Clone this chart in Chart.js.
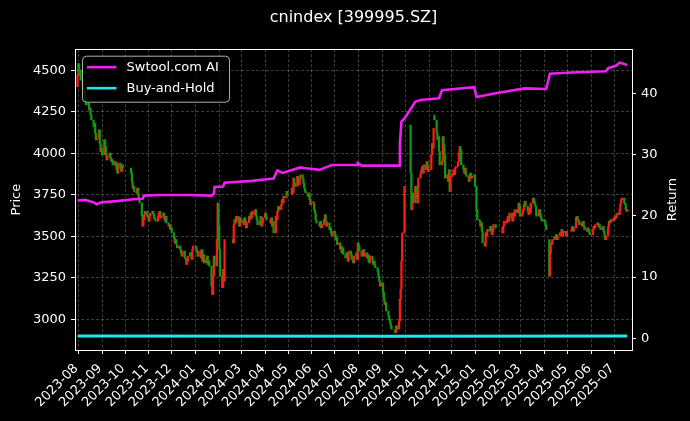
<!DOCTYPE html>
<html>
<head>
<meta charset="utf-8">
<script src="https://cdn.jsdelivr.net/npm/chart.js@4.4.1/dist/chart.umd.min.js"></script>
<style>
html,body{margin:0;padding:0;background:#000;}
canvas{display:block;}
</style>
</head>
<body>
<canvas id="c" width="690" height="421"></canvas>
<script>
// ---------------- DATA ----------------
const chartTitle = 'cnindex [399995.SZ]';
const priceAxisLabel = 'Price';
const returnAxisLabel = 'Return';
const seriesNames = ['Swtool.com AI', 'Buy-and-Hold'];

const firstDay = '2023-07-31';
const lastDay = '2025-07-18';

const xTickLabels = ['2023-08','2023-09','2023-10','2023-11','2023-12','2024-01','2024-02','2024-03',
  '2024-04','2024-05','2024-06','2024-07','2024-08','2024-09','2024-10','2024-11','2024-12',
  '2025-01','2025-02','2025-03','2025-04','2025-05','2025-06','2025-07'];
const priceTicks = [3000, 3250, 3500, 3750, 4000, 4250, 4500];
const returnTicks = [0, 10, 20, 30, 40];

// exchange holidays (weekdays without trading)
const holidays = ['2023-09-29','2023-10-02','2023-10-03','2023-10-04','2023-10-05','2023-10-06',
  '2024-01-01','2024-02-09','2024-02-12','2024-02-13','2024-02-14','2024-02-15','2024-02-16',
  '2024-04-04','2024-04-05','2024-05-01','2024-05-02','2024-05-03','2024-06-10',
  '2024-09-16','2024-09-17','2024-10-01','2024-10-02','2024-10-03','2024-10-04','2024-10-07',
  '2025-01-01','2025-01-28','2025-01-29','2025-01-30','2025-01-31','2025-02-03','2025-02-04',
  '2025-04-04','2025-05-01','2025-05-02','2025-05-05','2025-06-02'];

// daily closes, one row per month
const months = ['2023-07','2023-08','2023-09','2023-10','2023-11','2023-12','2024-01','2024-02',
  '2024-03','2024-04','2024-05','2024-06','2024-07','2024-08','2024-09','2024-10','2024-11',
  '2024-12','2025-01','2025-02','2025-03','2025-04','2025-05','2025-06','2025-07'];
const closeByMonth = [
  [4470],
  [4540,4470,4500,4440, 4390,4400,4350,4330,4290, 4300,4260,4270,4230,4200, 4160,4180,4120,4080,4090, 4140,4060,4010,4030],
  [3990, 4080,4040,3990,3960,3980, 4000,3970,3950,3960,3930, 3950,3920,3900,3880,3940, 3910,3890,3930,3910],
  [3880,3830,3790,3800,3770, 3760,3790,3750,3720,3700, 3620,3560,3600,3630,3650, 3620,3610],
  [3590,3620,3640, 3650,3630,3610,3600,3590, 3620,3640,3650,3610,3620, 3640,3610,3590,3620,3580, 3560,3570,3540,3550],
  [3520, 3490,3460,3480,3450,3430, 3440,3420,3400,3380,3410, 3370,3360,3330,3350,3380, 3400,3380,3360,3420,3440],
  [3420,3400,3380,3410, 3370,3420,3350,3390,3340, 3360,3380,3330,3350,3320, 3200,3150,3260,3380,3320, 3480,3700,3560],
  [3420,3260, 3190,3300,3230,3480, 3460,3570,3600,3580,3620, 3590,3560,3610,3580],
  [3600, 3570,3610,3590,3550,3580, 3620,3600,3640,3610,3650, 3630,3660,3620,3600,3570, 3590,3620,3560,3580,3610],
  [3640,3620,3600, 3580,3610,3560,3590,3520, 3620,3600,3650,3680,3660, 3690,3720,3700,3740,3730, 3770,3750],
  [3790,3760,3850,3820,3800, 3860,3830,3810,3840,3870, 3850,3820,3790,3770,3760, 3740,3760,3720,3690,3700],
  [3700,3660,3640,3600,3580, 3560,3590,3550,3570, 3600,3630,3590,3560,3580, 3540,3550,3520,3500,3530],
  [3510,3480,3490,3450,3460, 3420,3440,3400,3430,3390, 3370,3400,3380,3350,3410, 3390,3360,3370,3340,3380, 3400,3360,3460],
  [3440,3410, 3380,3400,3420,3380,3400, 3370,3390,3350,3340,3380, 3360,3330,3350,3320,3310, 3290,3260,3230,3200,3220],
  [3160,3120,3090,3100,3050, 3020,3000,2980,2960,2940, 2920,2960,2940, 2990,3120,3180,3350,3520, 3800],
  [3880,3660,3760,3700, 3800,3730,3760,3700,3850, 3880,3900,3920,3880,3930, 3900,3950,3920,3890],
  [3900, 3990,4060,4030,4150,4200, 4120,4080,4100,4010,3930, 3950,4100,4050,3990,3850, 3870,3830,3900,3770,3860],
  [3880,3900,3870,3910,3920, 3950,4000,4040,4020,3930, 3900,3880,3910,3870,3860, 3830,3870,3880,3850,3860, 3870,3800],
  [3660,3600, 3590,3560,3580,3530,3460, 3440,3520,3500,3540,3530, 3560,3540,3510,3530,3570, 3550],
  [3520,3560,3590, 3580,3600,3620,3590,3640, 3610,3590,3640,3620,3660, 3640,3650,3700,3680,3620],
  [3640,3660,3690,3710,3680, 3650,3630,3670,3640,3700, 3730,3710,3690,3680,3620, 3640,3660,3630,3610,3590, 3600],
  [3590,3570,3540, 3260,3400,3460,3450,3480, 3500,3490,3510,3480,3500, 3520,3510,3540,3500,3530, 3520,3500,3530],
  [3540,3560,3530,3550, 3610,3620,3600,3590,3570, 3580,3560,3590,3560,3540, 3530,3550,3540,3520,3510],
  [3540,3560,3550,3570, 3580,3560,3570,3550,3540, 3560,3530,3510,3480,3500, 3560,3590,3580,3600,3590, 3610],
  [3600,3620,3610,3640, 3630,3660,3700,3720,3730, 3700,3690,3660,3650,3660]
];
// opens that differ from the previous close (gaps)
const gapOpenDates = ['2023-07-31', '2024-10-08', '2024-11-08', '2025-04-07'];
const gapOpenValues = [4400, 4170, 4230, 3480];

// strategy cumulative return (right axis)
const aiDates = ['2023-07-31','2023-08-10','2023-08-21','2023-08-25','2023-08-31','2023-09-20','2023-10-12',
  '2023-10-24','2023-10-26','2023-11-13','2023-12-22','2024-01-22','2024-01-25','2024-01-26','2024-02-06',
  '2024-02-08','2024-03-15','2024-04-12','2024-04-17','2024-04-24','2024-05-17','2024-05-22','2024-06-11',
  '2024-06-27','2024-07-30','2024-07-31','2024-08-05','2024-09-23','2024-09-24','2024-09-26','2024-09-30',
  '2024-10-10','2024-10-14','2024-10-21','2024-11-14','2024-11-18','2024-12-30','2025-01-02','2025-01-27',
  '2025-03-06','2025-04-03','2025-04-08','2025-05-06','2025-06-20','2025-06-23','2025-07-03','2025-07-08',
  '2025-07-11','2025-07-18'];
const aiReturns = [22.5,22.6,22.2,21.9,22.2,22.4,22.7,
  22.8,23.3,23.4,23.4,23.3,23.6,24.7,24.8,
  25.4,25.7,26.1,27.4,27.0,27.9,27.8,27.5,
  28.3,28.3,28.6,28.2,28.2,31.8,35.4,35.9,
  37.8,38.6,38.9,39.2,40.5,41.0,39.4,40.0,
  40.8,40.7,43.2,43.4,43.6,44.1,44.5,45.0,
  44.9,44.6];

const bhDates = ['2023-07-31', '2024-09-18', '2025-07-18'];
const bhReturns = [0.4, 0.35, 0.4];

// ---------------- BUILD ----------------
const dayNum = s => Date.UTC(+s.slice(0,4), +s.slice(5,7) - 1, +s.slice(8,10)) / 864e5;
const holidaySet = new Set(holidays);
function tradingDaysOf(ym) {
  const y = +ym.slice(0,4), m = +ym.slice(5,7) - 1, out = [];
  for (let d = 1; d <= 31; d++) {
    const dt = new Date(Date.UTC(y, m, d));
    if (dt.getUTCMonth() !== m) break;
    const wd = dt.getUTCDay();
    if (wd === 0 || wd === 6) continue;
    const iso = dt.toISOString().slice(0, 10);
    if (holidaySet.has(iso) || iso < firstDay || iso > lastDay) continue;
    out.push(iso);
  }
  return out;
}
const candles = [];
let prevClose = null;
months.forEach((ym, i) => {
  const days = tradingDaysOf(ym), vals = closeByMonth[i];
  if (days.length !== vals.length) console.warn('count mismatch', ym, days.length, vals.length);
  const n = Math.min(days.length, vals.length);
  for (let k = 0; k < n; k++) {
    const iso = days[k], c = vals[k];
    const gi = gapOpenDates.indexOf(iso);
    const o = gi >= 0 ? gapOpenValues[gi] : (prevClose === null ? c : prevClose);
    candles.push({x: dayNum(iso), y: [o, c]});
    prevClose = c;
  }
});
const aiPoints = aiDates.map((d, i) => ({x: dayNum(d), y: aiReturns[i]}));
const bhPoints = bhDates.map((d, i) => ({x: dayNum(d), y: bhReturns[i]}));

const day0 = dayNum('2023-08-01');
const FONT = 'DejaVu Sans';
const UP = '#ff1a1a', DOWN = '#0f9a0f';
const AI_COLOR = '#f01ef0', BH_COLOR = '#1ee6ea';
const GRID = 'rgba(255,255,255,0.3)';

Chart.defaults.font.family = FONT;
Chart.defaults.color = '#ffffff';

const decor = {
  id: 'decor',
  beforeDraw(chart) {
    const ctx = chart.ctx;
    ctx.save();
    ctx.fillStyle = '#000';
    ctx.fillRect(0, 0, chart.width, chart.height);
    ctx.restore();
  },
  afterDraw(chart) {
    const ctx = chart.ctx, ca = chart.chartArea;
    ctx.save();
    // top spine
    ctx.strokeStyle = '#ffffff';
    ctx.lineWidth = 1;
    ctx.beginPath();
    ctx.moveTo(ca.left, Math.round(ca.top) + 0.5);
    ctx.lineTo(ca.right, Math.round(ca.top) + 0.5);
    ctx.stroke();
    // right axis title (reads bottom-to-top)
    ctx.fillStyle = '#fff';
    ctx.font = '13px "' + FONT + '"';
    ctx.textAlign = 'center';
    ctx.textBaseline = 'middle';
    ctx.translate(673, (ca.top + ca.bottom) / 2);
    ctx.rotate(-Math.PI / 2);
    ctx.fillText(returnAxisLabel, 0, 0);
    ctx.restore();

    // legend
    ctx.save();
    const lx = ca.left + 7.5, ly = ca.top + 7, lw = 147, lh = 46, r = 4;
    ctx.beginPath();
    ctx.moveTo(lx + r, ly);
    ctx.arcTo(lx + lw, ly, lx + lw, ly + lh, r);
    ctx.arcTo(lx + lw, ly + lh, lx, ly + lh, r);
    ctx.arcTo(lx, ly + lh, lx, ly, r);
    ctx.arcTo(lx, ly, lx + lw, ly, r);
    ctx.closePath();
    ctx.fillStyle = 'rgba(0,0,0,0.8)';
    ctx.fill();
    ctx.strokeStyle = 'rgba(204,204,204,0.85)';
    ctx.lineWidth = 1;
    ctx.stroke();
    const entries = chart.data.datasets.filter(d => d.legendEntry);
    entries.forEach((ds, i) => {
      const cy = ly + 11 + i * 21;
      ctx.strokeStyle = ds.borderColor;
      ctx.lineWidth = 2.6;
      ctx.beginPath();
      ctx.moveTo(lx + 4.5, cy);
      ctx.lineTo(lx + 34, cy);
      ctx.stroke();
      ctx.fillStyle = '#fff';
      ctx.font = '13px "' + FONT + '"';
      ctx.textAlign = 'left';
      ctx.textBaseline = 'middle';
      ctx.fillText(ds.label, lx + 44, cy + 0.5);
    });
    ctx.restore();
  }
};

new Chart(document.getElementById('c'), {
  type: 'bar',
  data: {
    datasets: [
      {
        type: 'line', label: seriesNames[0], legendEntry: true, data: aiPoints, yAxisID: 'yR',
        borderColor: AI_COLOR, backgroundColor: AI_COLOR, borderWidth: 2.6, pointRadius: 0,
        tension: 0, order: 1
      },
      {
        type: 'line', label: seriesNames[1], legendEntry: true, data: bhPoints, yAxisID: 'yR',
        borderColor: BH_COLOR, backgroundColor: BH_COLOR, borderWidth: 3, pointRadius: 0,
        tension: 0, order: 2
      },
      {
        type: 'bar', label: 'candles', data: candles, yAxisID: 'y',
        backgroundColor: ctx => (ctx.raw && ctx.raw.y[1] >= ctx.raw.y[0]) ? UP : DOWN,
        borderWidth: 0, barThickness: 1.6, minBarLength: 1.5, order: 3
      }
    ]
  },
  options: {
    responsive: false,
    animation: false,
    devicePixelRatio: 1,
    layout: {padding: 0},
    plugins: {
      legend: {display: false},
      tooltip: {enabled: false},
      title: {
        display: true, text: chartTitle, color: '#fff', fullSize: false,
        font: {family: FONT, size: 16, weight: 'normal'},
        padding: {top: 8, bottom: 22}
      }
    },
    scales: {
      x: {
        type: 'linear', position: 'bottom', offset: false,
        min: day0 - 4.31, max: day0 + 723.1,
        afterBuildTicks: s => { s.ticks = xTickLabels.map(l => ({value: dayNum(l + '-01')})); },
        afterFit: s => { s.height = 71; },
        ticks: {
          autoSkip: false, minRotation: 45, maxRotation: 45, color: '#fff',
          font: {family: FONT, size: 13}, padding: 7, labelOffset: -2,
          callback: (v, i) => xTickLabels[i]
        },
        grid: {color: GRID, lineWidth: 0.8, offset: false, drawTicks: true, tickLength: 4, tickColor: '#fff', tickWidth: 1},
        border: {display: true, color: '#fff', width: 1, dash: [3, 2]}
      },
      y: {
        type: 'linear', position: 'left', min: 2815, max: 4626,
        afterBuildTicks: s => { s.ticks = priceTicks.map(v => ({value: v})); },
        afterFit: s => { s.width = 75; },
        ticks: {color: '#fff', font: {family: FONT, size: 13}, padding: 5, callback: v => String(v)},
        grid: {color: GRID, lineWidth: 0.8, drawTicks: true, tickLength: 4, tickColor: '#fff', tickWidth: 1},
        border: {display: true, color: '#fff', width: 1, dash: [3, 2]},
        title: {display: true, text: priceAxisLabel, color: '#fff', font: {family: FONT, size: 13}, padding: {top: 9, bottom: 0}}
      },
      yR: {
        type: 'linear', position: 'right', min: -1.9, max: 47.2,
        afterBuildTicks: s => { s.ticks = returnTicks.map(v => ({value: v})); },
        afterFit: s => { s.width = 58; },
        ticks: {color: '#fff', font: {family: FONT, size: 13}, padding: 5, callback: v => String(v)},
        grid: {drawOnChartArea: false, drawTicks: true, tickLength: 4, tickColor: '#fff', tickWidth: 1},
        border: {display: true, color: '#fff', width: 1}
      }
    }
  },
  plugins: [decor]
});
</script>
</body>
</html>
